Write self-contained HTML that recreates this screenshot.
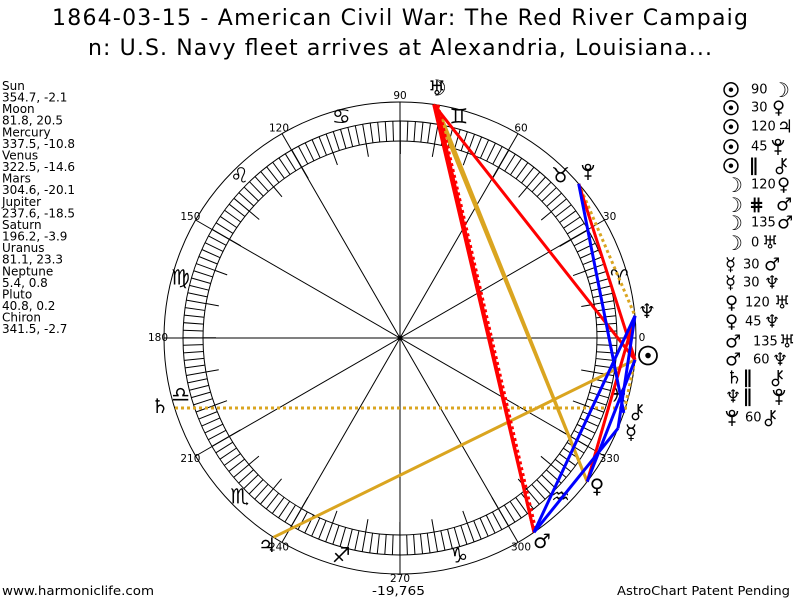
<!DOCTYPE html>
<html>
<head>
<meta charset="utf-8">
<style>
html,body{margin:0;padding:0;background:#fff;}
svg{display:block;}
text{font-family:"DejaVu Sans","Liberation Sans",sans-serif;fill:#000;}
.lbl{font-size:10.5px;}
.sg{font-size:21px;}
.pl{font-size:20px;}
.lg{font-size:18px;}
.num{font-size:13px;font-family:"DejaVu Sans","Liberation Sans",sans-serif;}
</style>
</head>
<body>
<svg width="800" height="600" viewBox="0 0 800 600" xmlns="http://www.w3.org/2000/svg">
<defs>
<g id="pluto" fill="none" stroke="#000" stroke-width="1.4">
<circle cx="0" cy="-5" r="2.6"/>
<path d="M -5.5 -7 A 5.5 5.5 0 0 0 5.5 -7"/>
<line x1="0" y1="-1.5" x2="0" y2="8"/>
<line x1="-3.5" y1="4" x2="3.5" y2="4"/>
</g>
<g id="chiron" fill="none" stroke="#000" stroke-width="1.4">
<circle cx="-1.5" cy="4.5" r="3.2"/>
<line x1="1.2" y1="1.8" x2="1.2" y2="-8"/>
<line x1="1.2" y1="-3" x2="5.5" y2="-7.5"/>
<line x1="1.2" y1="-3" x2="5.5" y2="1"/>
</g>
</defs>
<rect width="800" height="600" fill="#fff"/>

<!-- Title -->
<text x="52" y="25" font-size="22" textLength="696" lengthAdjust="spacing">1864-03-15 - American Civil War: The Red River Campaig</text>
<text x="88" y="55" font-size="22" textLength="624" lengthAdjust="spacing">n: U.S. Navy fleet arrives at Alexandria, Louisiana...</text>

<!-- Left planet list -->
<g font-size="12">
<text x="2" y="90">Sun</text>
<text x="2" y="101.6">354.7, -2.1</text>
<text x="2" y="113.2">Moon</text>
<text x="2" y="124.7">81.8, 20.5</text>
<text x="2" y="136.3">Mercury</text>
<text x="2" y="147.9">337.5, -10.8</text>
<text x="2" y="159.5">Venus</text>
<text x="2" y="171.1">322.5, -14.6</text>
<text x="2" y="182.6">Mars</text>
<text x="2" y="194.2">304.6, -20.1</text>
<text x="2" y="205.8">Jupiter</text>
<text x="2" y="217.4">237.6, -18.5</text>
<text x="2" y="229">Saturn</text>
<text x="2" y="240.5">196.2, -3.9</text>
<text x="2" y="252.1">Uranus</text>
<text x="2" y="263.7">81.1, 23.3</text>
<text x="2" y="275.3">Neptune</text>
<text x="2" y="286.9">5.4, 0.8</text>
<text x="2" y="298.4">Pluto</text>
<text x="2" y="310">40.8, 0.2</text>
<text x="2" y="321.6">Chiron</text>
<text x="2" y="333.2">341.5, -2.7</text>
</g>

<!-- Chart circles -->
<circle cx="400" cy="338" r="236" fill="none" stroke="#000" stroke-width="1"/>
<circle cx="400" cy="338" r="217" fill="none" stroke="#000" stroke-width="1"/>
<circle cx="400" cy="338" r="197" fill="none" stroke="#000" stroke-width="1"/>
<circle cx="400" cy="338" r="207" fill="none" stroke="#000" stroke-width="20" stroke-dasharray="1 6.2257" stroke-dashoffset="0.5"/>
<circle cx="400" cy="338" r="190.5" fill="none" stroke="#000" stroke-width="13" stroke-dasharray="1 32.249" stroke-dashoffset="0.5"/>

<!-- House lines -->
<g stroke="#000" stroke-width="1">
<line x1="164" y1="338" x2="636" y2="338"/>
<line x1="195.6" y1="456" x2="604.4" y2="220"/>
<line x1="282" y1="542.4" x2="518" y2="133.6"/>
<line x1="400" y1="574" x2="400" y2="102"/>
<line x1="518" y1="542.4" x2="282" y2="133.6"/>
<line x1="604.4" y1="456" x2="195.6" y2="220"/>
</g>
<circle cx="400" cy="338" r="2.5" fill="#000"/>

<!-- Degree labels -->
<g class="lbl" text-anchor="middle" dominant-baseline="central">
<text x="642" y="338">0</text>
<text x="609.6" y="217">30</text>
<text x="521" y="128.4">60</text>
<text x="400" y="96">90</text>
<text x="279" y="128.4">120</text>
<text x="190.4" y="217">150</text>
<text x="158" y="338">180</text>
<text x="190.4" y="459">210</text>
<text x="279" y="547.6">240</text>
<text x="400" y="579">270</text>
<text x="521" y="547.6">300</text>
<text x="609.6" y="459">330</text>
</g>

<!-- Sign glyphs -->
<g class="sg" text-anchor="middle" dominant-baseline="central">
<text x="619.3" y="277.3">♈</text>
<text x="560.5" y="175.5">♉</text>
<text x="458.8" y="116.7">♊</text>
<text x="341.3" y="116.7">♋</text>
<text x="239.5" y="175.5">♌</text>
<text x="180.7" y="277.3">♍</text>
<text x="180.7" y="394.7">♎</text>
<text x="239.5" y="496.5">♏</text>
<text x="341.3" y="555.3">♐</text>
<text x="458.8" y="555.3">♑</text>
<text x="560.5" y="496.5">♒</text>
<text x="619.3" y="394.7">♓</text>
</g>

<!-- Aspect lines -->
<g fill="none" stroke-width="3" stroke-linecap="butt">
<line x1="635" y1="359.8" x2="273.5" y2="537.3" stroke="#daa520"/>
<line x1="433.7" y1="104.4" x2="587.2" y2="481.7" stroke="#daa520"/>
<line x1="436.5" y1="104.8" x2="587.2" y2="481.7" stroke="#daa520"/>
<line x1="175" y1="408" x2="627" y2="408" stroke="#daa520" stroke-dasharray="3 3"/>
<line x1="578.7" y1="183.8" x2="635" y2="315.8" stroke="#daa520" stroke-dasharray="3 3"/>
<line x1="635" y1="359.8" x2="623.8" y2="412.9" stroke="#daa520" stroke-dasharray="3 3"/>
<line x1="635" y1="359.8" x2="433.7" y2="104.4" stroke="#ff0000"/>
<line x1="635" y1="359.8" x2="578.7" y2="183.8" stroke="#ff0000"/>
<line x1="587.2" y1="481.7" x2="635" y2="315.8" stroke="#ff0000"/>
<line x1="433.7" y1="104.4" x2="534" y2="532.3" stroke="#ff0000"/>
<line x1="436.5" y1="104.8" x2="534" y2="532.3" stroke="#ff0000"/>
<line x1="438" y1="104.8" x2="536" y2="531" stroke="#ff0000" stroke-dasharray="3 3"/>
<line x1="635" y1="359.8" x2="587.2" y2="481.7" stroke="#0000ff"/>
<line x1="618" y1="428.3" x2="534" y2="532.3" stroke="#0000ff"/>
<line x1="618" y1="428.3" x2="635" y2="315.8" stroke="#0000ff"/>
<line x1="534" y1="532.3" x2="635" y2="315.8" stroke="#0000ff"/>
<line x1="578.7" y1="183.8" x2="623.8" y2="412.9" stroke="#0000ff"/>
</g>

<!-- Planet glyphs on chart -->
<g class="pl" text-anchor="middle" dominant-baseline="central">
<text x="437" y="89" font-size="22">☽</text>
<text x="437" y="88">♅</text>
<text x="647" y="311">♆</text>
<text x="648" y="357" font-size="26" stroke="#000" stroke-width="0.8">☉</text>
<text x="631" y="432">☿</text>
<text x="597" y="486">♀</text>
<text x="542" y="541">♂</text>
<text x="267" y="545">♃</text>
<text x="160" y="406">♄</text>
</g>
<use href="#pluto" x="588" y="172"/>
<use href="#chiron" x="637" y="412"/>

<!-- Legend -->
<g class="lg" dominant-baseline="central">
<text x="722" y="90" font-size="20" stroke="#000" stroke-width="0.8">☉</text><text class="num" x="751" y="90">90</text><text x="772" y="90" font-size="20">☽</text>
<text x="722" y="108" font-size="20" stroke="#000" stroke-width="0.8">☉</text><text class="num" x="751" y="108">30</text><text x="772" y="108">♀</text>
<text x="722" y="127" font-size="20" stroke="#000" stroke-width="0.8">☉</text><text class="num" x="751" y="127">120</text><text x="777" y="127">♃</text>
<text x="722" y="147" font-size="20" stroke="#000" stroke-width="0.8">☉</text><text class="num" x="751" y="147">45</text>
<text x="722" y="166" font-size="20" stroke="#000" stroke-width="0.8">☉</text><text x="749" y="166" font-weight="bold">∥</text>
<text x="725" y="185" font-size="20">☽</text><text class="num" x="751" y="185">120</text><text x="777" y="185">♀</text>
<text x="725" y="205" font-size="20">☽</text><text x="749" y="205" font-weight="bold">⋕</text><text x="776" y="205">♂</text>
<text x="725" y="223" font-size="20">☽</text><text class="num" x="751" y="223">135</text><text x="777" y="223">♂</text>
<text x="725" y="243" font-size="20">☽</text><text class="num" x="751" y="243">0</text><text x="762" y="243">♅</text>
<text x="725" y="265">☿</text><text class="num" x="743" y="265">30</text><text x="764" y="265">♂</text>
<text x="725" y="283">☿</text><text class="num" x="743" y="283">30</text><text x="764" y="283">♆</text>
<text x="725" y="303">♀</text><text class="num" x="745" y="303">120</text><text x="774" y="303">♅</text>
<text x="725" y="322">♀</text><text class="num" x="745" y="322">45</text><text x="764" y="322">♆</text>
<text x="725" y="342">♂</text><text class="num" x="753" y="342">135</text><text x="779" y="342">♅</text>
<text x="725" y="360">♂</text><text class="num" x="753" y="360">60</text><text x="772" y="360">♆</text>
<text x="726" y="378">♄</text><text x="743" y="378" font-weight="bold">∥</text>
<text x="725" y="397">♆</text><text x="743" y="397" font-weight="bold">∥</text>
<text class="num" x="745" y="418">60</text>
</g>
<use href="#pluto" x="778" y="147"/>
<use href="#pluto" x="779" y="397"/>
<use href="#pluto" x="732" y="418"/>
<use href="#chiron" x="781" y="166"/>
<use href="#chiron" x="777" y="378"/>
<use href="#chiron" x="770" y="418"/>

<!-- Footer -->
<text x="2" y="595" font-size="12.5" textLength="152" lengthAdjust="spacingAndGlyphs">www.harmoniclife.com</text>
<text x="372" y="595" font-size="12.5" textLength="53" lengthAdjust="spacingAndGlyphs">-19,765</text>
<text x="617" y="595" font-size="12.5" textLength="173" lengthAdjust="spacingAndGlyphs">AstroChart Patent Pending</text>
</svg>
</body>
</html>
